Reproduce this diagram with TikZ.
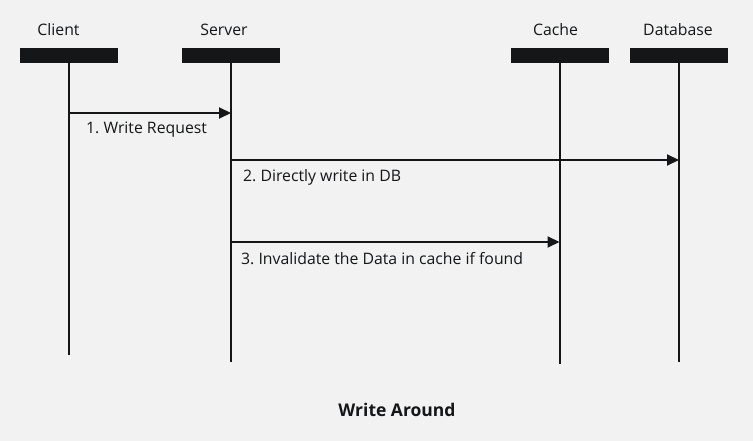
\documentclass[tikz,border=0pt]{standalone}
\usepackage{fontspec}
\setmainfont{Open Sans}
\usetikzlibrary{positioning,arrows.meta}
\frenchspacing

\definecolor{bgcol}{HTML}{F2F2F2}
\definecolor{inkcol}{HTML}{141618}

\begin{document}
\begin{tikzpicture}[x=1pt,y=-1pt]

        % Define styles
        \tikzstyle{actor} = [rectangle, fill=inkcol, draw=none, minimum width=98pt, minimum height=15pt, inner sep=0pt]
        \tikzstyle{actorname} = [text=inkcol, font=\fontsize{15.8}{18}\selectfont, inner sep=0pt]
        \tikzstyle{lifeline} = [draw=inkcol, line width=2pt]
        \tikzstyle{message} = [draw=inkcol, line width=2pt, -{Triangle[length=12pt,width=11pt]}]
        \tikzstyle{msglabel} = [text=inkcol, font=\fontsize{15.8}{18}\selectfont, anchor=west, inner sep=0pt]

        % Background
        \fill[bgcol] (0,0) rectangle (753,441);
        \useasboundingbox (0,0) rectangle (753,441);

        % Actors
        \node[actor] (client) at (69,55.5) {};
        \node[actor] (server) at (231,55.5) {};
        \node[actor] (cache) at (559.5,55.5) {};
        \node[actor] (database) at (679,55.5) {};

        \node[actorname] (clientname) at (58.5,30) {Client};
        \node[actorname] (servername) at (224,30) {Server};
        \node[actorname] (cachename) at (555.5,30) {Cache};
        \node[actorname] (databasename) at (678,30) {Database};

        % Lifeline ends
        \coordinate (clientend) at (69,355);
        \coordinate (serverend) at (231,362);
        \coordinate (cacheend) at (559.5,364);
        \coordinate (databaseend) at (679,362);

        \foreach \a in {client,server,cache,database}
            \draw[lifeline] (\a.south) -- (\a end);

        % Message points
        \coordinate (m1a) at (69,113);
        \coordinate (m1b) at (231,113);
        \coordinate (m2a) at (231,160);
        \coordinate (m2b) at (679,160);
        \coordinate (m3a) at (231,242);
        \coordinate (m3b) at (559.5,242);

        % Messages
        \draw[message] (m1a) -- (m1b);
        \draw[message] (m2a) -- (m2b);
        \draw[message] (m3a) -- (m3b);

        \node[msglabel] (label1) at (86,130) {1. Write Request};
        \node[msglabel] (label2) at (243,177) {2. Directly write in DB};
        \node[msglabel] (label3) at (241,259) {3. Invalidate the Data in cache if found};

        % Title
        \node[text=inkcol, font=\fontsize{17.5}{20}\selectfont\bfseries, inner sep=0pt] (title) at (397,410) {Write Around};

    \end{tikzpicture}
\end{document}
